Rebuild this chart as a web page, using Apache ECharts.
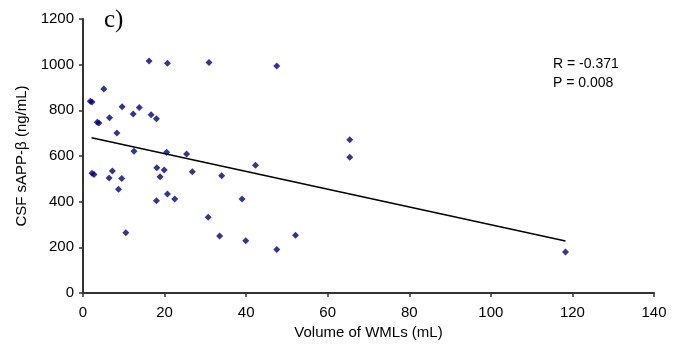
<!DOCTYPE html>
<html>
<head>
<meta charset="utf-8">
<script src="https://cdn.jsdelivr.net/npm/echarts@6/dist/echarts.min.js"></script>
<style>html,body{margin:0;padding:0;background:#fff}#c{width:688px;height:358px}</style>
</head>
<body>
<div id="c"></div>
<script>
// Data
var xValues = [1.8, 2.2, 3.5, 3.9, 5.1, 6.5, 8.3, 9.6, 12.3, 13.8, 16.2, 16.7, 18.0, 20.7, 30.9, 47.5,
               12.5, 20.5, 25.4,
               2.2, 2.7, 6.4, 7.2, 9.5, 8.7, 10.5, 18.1, 18.9, 19.9, 18.0, 20.7, 22.5, 26.8, 30.7, 34.0, 33.5, 39.0, 39.9, 42.3, 47.5,
               65.4, 65.4, 52.1, 118.3];
var yValues = [840, 836, 748, 744, 893, 768, 701, 816, 784, 812, 1016, 781, 763, 1006, 1009, 994,
               621, 616, 609,
               524, 519, 504, 534, 502, 454, 264, 549, 509, 539, 404, 434, 412, 531, 332, 514, 250, 412, 229, 559, 190,
               671, 594, 253, 180];
var trendX = [2.1, 118.3];
var trendY = [680, 228];
var xTicks = [0, 20, 40, 60, 80, 100, 120, 140];
var yTicks = [0, 200, 400, 600, 800, 1000, 1200];
var statsText = ['R = -0.371', 'P = 0.008'];
var panelLabel = 'c)';

var points = xValues.map(function (x, i) { return [x, yValues[i]]; });
var trend = trendX.map(function (x, i) { return [x, trendY[i]]; });

var chart = echarts.init(document.getElementById('c'), null, {renderer: 'canvas'});
var font = 'Liberation Sans, Arial, sans-serif';
chart.setOption({
  animation: false,
  backgroundColor: '#fff',
  grid: {left: 83, right: 34, top: 19, bottom: 65, containLabel: false},
  xAxis: {
    type: 'value', min: xTicks[0], max: xTicks[xTicks.length - 1], interval: 20,
    name: 'Volume of WMLs (mL)', nameLocation: 'middle', nameGap: 28,
    nameTextStyle: {fontFamily: font, fontSize: 15, color: '#000', verticalAlign: 'top'},
    axisLine: {show: true, onZero: false, lineStyle: {color: '#333', width: 2}},
    axisTick: {show: true, inside: false, length: 4, lineStyle: {color: '#333', width: 1.5}},
    axisLabel: {fontFamily: font, fontSize: 15, color: '#000', margin: 12, formatter: function (v) { return String(v); }},
    splitLine: {show: false}
  },
  yAxis: {
    type: 'value', min: yTicks[0], max: yTicks[yTicks.length - 1], interval: 200,
    name: 'CSF sAPP-\u03b2 (ng/mL)', nameLocation: 'middle', nameGap: 52, nameRotate: 90,
    nameTextStyle: {fontFamily: font, fontSize: 15, color: '#000'},
    axisLine: {show: true, onZero: false, lineStyle: {color: '#333', width: 2}},
    axisTick: {show: true, inside: false, length: 4, lineStyle: {color: '#333', width: 1.5}},
    axisLabel: {fontFamily: font, fontSize: 15, color: '#000', margin: 9, formatter: function (v) { return String(v); }},
    splitLine: {show: false}
  },
  series: [
    {
      type: 'scatter', data: points, symbol: 'diamond', symbolSize: 7,
      itemStyle: {color: '#000080'}, z: 3
    },
    {
      type: 'line', data: trend, symbol: 'none',
      lineStyle: {color: '#000', width: 1.5}, z: 2
    }
  ],
  graphic: [
    {type: 'text', left: 553, top: 55, style: {text: statsText.join('\n'), font: '14px ' + font, fill: '#000', lineHeight: 19}},
    {type: 'text', left: 104, top: 8, style: {text: panelLabel, font: '25px Liberation Serif, Times New Roman, serif', fill: '#000'}}
  ]
});
</script>
</body>
</html>
